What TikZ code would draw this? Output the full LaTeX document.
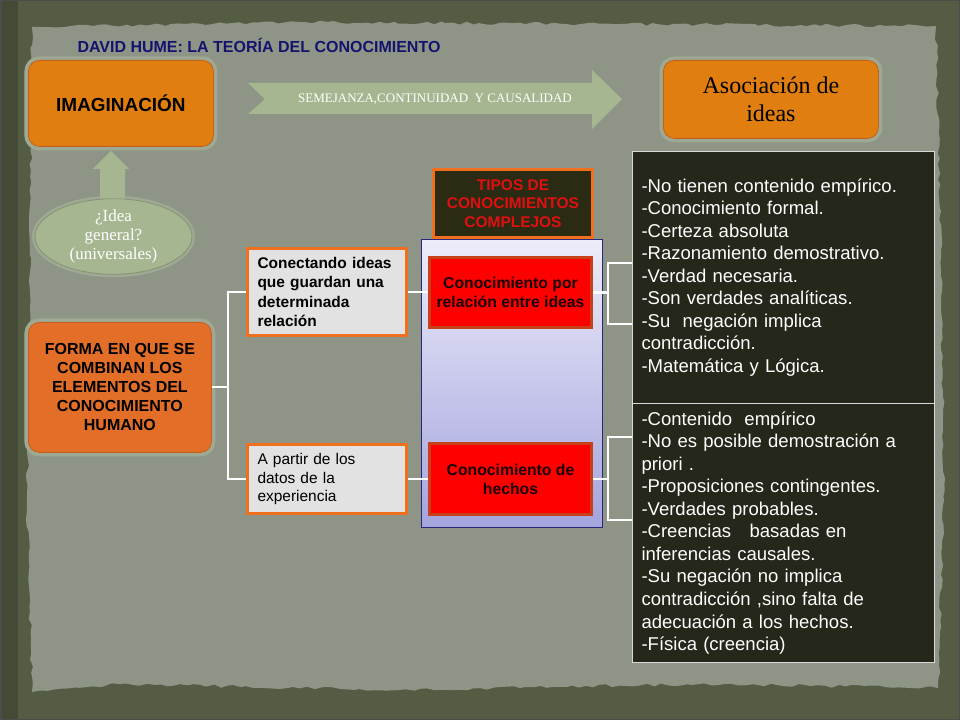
\documentclass[tikz,border=0pt]{standalone}
\usepackage{fontspec}
\setmainfont{Liberation Serif}
\setsansfont{Liberation Sans}
\usetikzlibrary{shapes.geometric,decorations.pathmorphing}
\newlength\PX \setlength\PX{0.75pt}
\definecolor{frame}{RGB}{84,92,68}
\definecolor{paper}{RGB}{142,149,135}
\definecolor{halo}{RGB}{158,168,146}
\definecolor{orng}{RGB}{224,126,16}
\definecolor{orngred}{RGB}{226,110,40}
\definecolor{orngdk}{RGB}{196,96,30}
\definecolor{sage}{RGB}{166,182,144}
\definecolor{sagedk}{RGB}{132,148,114}
\definecolor{navy}{RGB}{20,20,110}
\definecolor{boxgray}{RGB}{226,226,226}
\definecolor{boxorng}{RGB}{240,112,32}
\definecolor{redfill}{RGB}{255,0,0}
\definecolor{redbrd}{RGB}{200,64,26}
\definecolor{tipofill}{RGB}{43,43,20}
\definecolor{tipotxt}{RGB}{224,16,16}
\definecolor{darkbox}{RGB}{37,39,26}
\definecolor{paneltop}{RGB}{236,236,250}
\definecolor{panelbot}{RGB}{164,164,222}
\definecolor{panelbrd}{RGB}{40,40,120}
\begin{document}
\begin{tikzpicture}[x=0.75pt,y=-0.75pt,
  orangebox/.style={rounded corners=11\PX, draw=orngdk, line width=0.6pt,
    preaction={draw=halo, line width=8\PX}, inner sep=0pt, anchor=north west, align=center},
  greyboxstyle/.style={fill=boxgray, draw=boxorng, line width=3\PX, inner xsep=10\PX, inner ysep=0pt,
    anchor=north west, minimum width=159\PX, text width=139\PX, align=left,
    font=\sffamily\fontsize{11.6}{14.4}\selectfont},
  redbox/.style={fill=redfill, draw=redbrd, line width=3\PX, inner sep=0pt, anchor=north west,
    minimum width=162\PX, align=center, text=black!90!red,
    font=\sffamily\bfseries\fontsize{11.8}{14.2}\selectfont},
  textbox/.style={fill=darkbox, draw=white!85!black, line width=1\PX, anchor=north west,
    minimum width=302\PX, inner xsep=9\PX, inner ysep=2\PX, text width=284\PX, align=left,
    text=white, font=\sffamily\fontsize{13.9}{16.9}\selectfont},
  conn/.style={draw=white, line width=2.2\PX},
  sagearrow/.style={fill=sage, draw=none}
]
\useasboundingbox (0,0) rectangle (960,720);
\pgfmathsetseed{11}
% background
\fill[frame] (0,0) rectangle (960,720);
\fill[frame!80!black] (0,0) rectangle (18,720);
\fill[paper, decorate, decoration={random steps, segment length=5pt, amplitude=1.2pt}]
  (32,27) -- (300,22) -- (620,24) -- (936,26) -- (941,250) -- (944,500) -- (938,688)
  -- (700,684) -- (400,690) -- (120,684) -- (32,692) -- (27,500) -- (30,250) -- cycle;
\draw[black!70, line width=1.5\PX] (0.75,0.75) rectangle (959.25,719.25);

% title
\node[font=\sffamily\bfseries\fontsize{12}{14}\selectfont, text=navy] (title) at (259,45)
  {DAVID HUME: LA TEORÍA DEL CONOCIMIENTO};

% top boxes
\node[orangebox, fill=orng, minimum width=185\PX, minimum height=86\PX,
  font=\sffamily\bfseries\fontsize{14.2}{17}\selectfont] (imag) at (28,60) {IMAGINACIÓN};
\node[orangebox, fill=orng, minimum width=215\PX, minimum height=78\PX,
  font=\rmfamily\fontsize{18}{21}\selectfont] (asoc) at (663,60) {Asociación de\\ideas};

% horizontal arrow
\fill[sagearrow] (248,83) -- (592,83) -- (592,70) -- (622,99) -- (592,129) -- (592,114)
  -- (248,114) -- (265,99) -- cycle;
\node[text=white, font=\rmfamily\fontsize{9.75}{11}\selectfont] (semej) at (435,99)
  {SEMEJANZA,CONTINUIDAD\ \ Y CAUSALIDAD};

% ellipse and up arrow
\node[ellipse, fill=sage, draw=sagedk, line width=0.6pt, preaction={draw=halo, line width=6\PX},
  minimum width=157\PX, minimum height=67\PX, inner sep=0pt, align=center, text=white,
  font=\rmfamily\fontsize{12.75}{14.25}\selectfont] (idea) at (113.5,236.5)
  {¿Idea\\general?\\(universales)};
\fill[sagearrow] (idea.north -| 100,0) -- (100,169) -- (93,169) -- (111,151) -- (129,169)
  -- (125,169) -- (idea.north -| 125,0) -- cycle;

% forma
\node[orangebox, fill=orngred, minimum width=183\PX, minimum height=130\PX,
  font=\sffamily\bfseries\fontsize{12}{14.25}\selectfont] (forma) at (28,322)
  {FORMA EN QUE SE\\COMBINAN LOS\\ELEMENTOS DEL\\CONOCIMIENTO\\HUMANO};

% grey boxes
\node[greyboxstyle, minimum height=87\PX, font=\sffamily\bfseries\fontsize{11.6}{14.6}\selectfont]
  (box1) at (246,247) {Conectando ideas\\que guardan una\\determinada\\relación};
\node[greyboxstyle, minimum height=69\PX, font=\sffamily\fontsize{11.6}{13.9}\selectfont]
  (box2) at (246,443) {A partir de los\\datos de la\\experiencia};

% panel
\node[anchor=north west, minimum width=181\PX, minimum height=288\PX, inner sep=0pt,
  top color=paneltop, bottom color=panelbot, draw=panelbrd, line width=1\PX] (panel) at (421,239) {};

% tipos
\node[anchor=north west, minimum width=159\PX, minimum height=68\PX, inner sep=0pt,
  fill=tipofill, draw=boxorng, line width=3\PX, align=center, text=tipotxt,
  font=\sffamily\bfseries\fontsize{11.6}{13.9}\selectfont] (tipos) at (432,168)
  {TIPOS DE\\CONOCIMIENTOS\\COMPLEJOS};

% red boxes
\node[redbox, minimum height=70\PX] (red1) at (428,256) {Conocimiento por\\relación entre ideas};
\node[redbox, minimum height=71\PX] (red2) at (428,442) {Conocimiento de\\hechos};

% right text boxes
\node[textbox, minimum height=252\PX] (tA) at (632,151)
  {-No tienen contenido empírico.\\
   -Conocimiento formal.\\
   -Certeza absoluta\\
   -Razonamiento demostrativo.\\
   -Verdad necesaria.\\
   -Son verdades analíticas.\\
   -Su~ negación implica\\
   contradicción.\\
   -Matemática y Lógica.};
\node[textbox, minimum height=259\PX] (tB) at (632,403)
  {-Contenido~ empírico\\
   -No es posible demostración a\\
   priori .\\
   -Proposiciones contingentes.\\
   -Verdades probables.\\
   -Creencias~~ basadas en\\
   inferencias causales.\\
   -Su negación no implica\\
   contradicción ,sino falta de\\
   adecuación a los hechos.\\
   -Física (creencia)};

% connectors left
\coordinate (jL) at (228,387);
\draw[conn] (forma.east |- jL) -- (jL);
\draw[conn] (box1.west) -| (jL) |- (box2.west);
\draw[conn] (box1.east) -- (box1.east -| red1.west);
\draw[conn] (box2.east) -- (box2.east -| red2.west);

% connectors right
\coordinate (jR1) at (red1.east -| 608,0);
\coordinate (a1) at (632,263);
\coordinate (a2) at (632,324);
\draw[conn] (red1.east) -- (jR1);
\draw[conn] (a1) -| (jR1) |- (a2);
\coordinate (jR2) at (red2.east -| 608,0);
\coordinate (b1) at (632,437);
\coordinate (b2) at (632,520);
\draw[conn] (red2.east) -- (jR2);
\draw[conn] (b1) -| (jR2) |- (b2);
\end{tikzpicture}
\end{document}
